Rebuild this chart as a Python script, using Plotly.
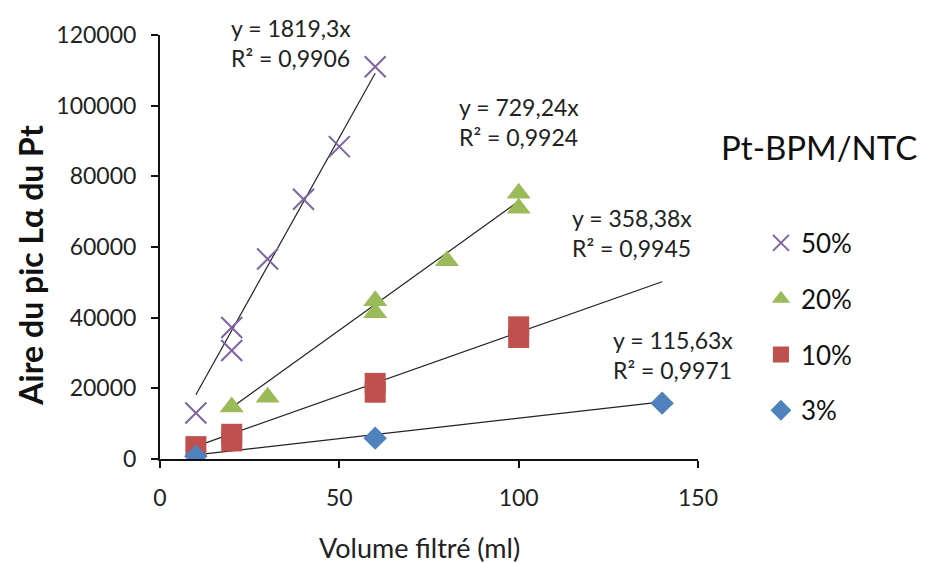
import plotly.graph_objects as go

# series
labels = ["50%", "20%", "10%", "3%"]
x_50 = [10, 20, 20, 30, 40, 50, 60]
y_50 = [13000, 37200, 30700, 56600, 73500, 88400, 111000]
x_20 = [20, 30, 60, 60, 80, 100, 100]
y_20 = [14700, 17500, 44800, 41400, 56100, 75200, 71000]
x_10 = [10, 20, 20, 60, 60, 100, 100]
y_10 = [3500, 7000, 5100, 21400, 18900, 37400, 34400]
x_3 = [10, 60, 140]
y_3 = [800, 5900, 15800]

slopes = [1819.3, 729.24, 358.38, 115.63]
r2 = ["0,9906", "0,9924", "0,9945", "0,9971"]
slope_txt = ["1819,3", "729,24", "358,38", "115,63"]
trend_start = [10, 20, 10, 10]
trend_end = [60, 100, 140, 140]
# where each equation label sits (data coords)
eq_x = [36.5, 100, 131.5, 143]
eq_y = [117700, 95500, 63900, 29300]

xs = [x_50, x_20, x_10, x_3]
ys = [y_50, y_20, y_10, y_3]
colors = ["#8064A2", "#9BBB59", "#C0504D", "#4F81BD"]
symbols = ["x-thin-open", "triangle-up", "square", "diamond"]
sizes = [21, 21, 21, 18]

FONT = "Lato"
fig = go.Figure()

for i in range(4):
    fig.add_trace(go.Scatter(
        x=[trend_start[i], trend_end[i]],
        y=[slopes[i] * trend_start[i], slopes[i] * trend_end[i]],
        mode="lines", line=dict(color="#222", width=1.2),
        showlegend=False, hoverinfo="skip"))

for i in range(4):
    mk = dict(symbol=symbols[i], size=sizes[i], color=colors[i])
    if symbols[i] == "x-thin-open":
        mk["line"] = dict(color=colors[i], width=2)
    else:
        mk["line"] = dict(width=0)
    fig.add_trace(go.Scatter(
        x=xs[i], y=ys[i], mode="markers", name=labels[i],
        legendgroup=labels[i], marker=mk))

for i in range(4):
    fig.add_annotation(
        x=eq_x[i], y=eq_y[i], xref="x", yref="y",
        text=f"y = {slope_txt[i]}x<br>R² = {r2[i]}",
        showarrow=False, align="left", bgcolor="white",
        font=dict(family=FONT, size=23, color="#222"))

fig.add_annotation(
    x=1.225, y=0.737, xref="paper", yref="paper",
    xanchor="center", yanchor="middle",
    text="Pt-BPM/NTC", showarrow=False,
    font=dict(family=FONT, size=33, color="#111"))

# axis titles placed by hand
fig.add_annotation(
    x=0.483, y=-0.209, xref="paper", yref="paper",
    xanchor="center", yanchor="middle",
    text="Volume filtré (ml)", showarrow=False,
    font=dict(family=FONT, size=27, color="#222"))
fig.add_annotation(
    x=-0.240, y=0.458, xref="paper", yref="paper",
    xanchor="center", yanchor="middle",
    text="<b>Aire du pic Lα du Pt</b>", showarrow=False, textangle=-90,
    font=dict(family=FONT, size=32, color="#111"))

fig.update_layout(
    width=932, height=564,
    margin=dict(l=152, r=242, t=25, b=113),
    plot_bgcolor="white", paper_bgcolor="white",
    font=dict(family=FONT, color="#222"),
    legend=dict(x=1.117, y=0.565, xanchor="left", yanchor="top",
                font=dict(family=FONT, size=26, color="#111"),
                tracegroupgap=19, itemwidth=30),
)

fig.update_xaxes(
    range=[0, 150], tickvals=[0, 50, 100, 150],
    showgrid=False, zeroline=False,
    showline=True, linecolor="#111", linewidth=2,
    ticks="outside", ticklen=7, tickwidth=2, tickcolor="#111",
    ticklabelstandoff=10,
    tickfont=dict(family=FONT, size=23, color="#222"))

fig.update_yaxes(
    range=[0, 120000], dtick=20000, tickformat="d",
    showgrid=False, zeroline=False,
    showline=True, linecolor="#111", linewidth=2,
    ticks="outside", ticklen=7, tickwidth=2, tickcolor="#111",
    ticklabelstandoff=10,
    tickfont=dict(family=FONT, size=23, color="#222"))

fig.write_html("out.html")
